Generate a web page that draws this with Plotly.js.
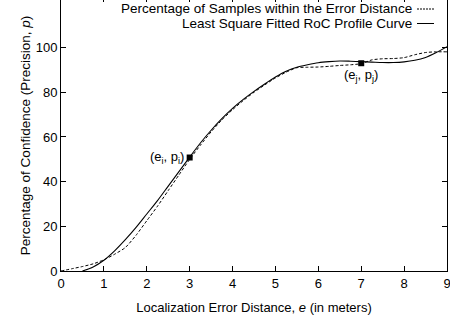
<!DOCTYPE html>
<html>
<head>
<meta charset="utf-8">
<script src="https://cdn.plot.ly/plotly-3.0.1.min.js"></script>
<style>html,body{margin:0;padding:0;background:#fff;}#chart{width:450px;height:320px;}</style>
</head>
<body>
<div id="chart"></div>
<script>
// Percentage of samples within the error distance (dashed)
const sampleE = [0,0.25,0.5,0.75,1,1.25,1.5,1.75,2,2.25,2.5,2.75,3,3.25,3.5,3.75,4,4.25,4.5,4.75,5,5.25,5.5,5.75,6,6.25,6.5,6.75,7,7.25,7.5,7.75,8,8.25,8.5,8.75,9];
const sampleP = [0,1,2,3.2,5,7.5,10.5,16,22.5,29,36,43,50,56.3,62.3,67.6,72.2,76.3,80,83.3,86.4,89,91,91.2,91.3,91.6,92,92.3,92.8,94.5,95,95.1,95.5,96.8,97.8,98.1,98.1];
// Least square fitted RoC profile curve (solid)
const fitE = [0.5,0.75,1,1.25,1.5,1.75,2,2.25,2.5,2.75,3,3.25,3.5,3.75,4,4.25,4.5,4.75,5,5.25,5.5,5.75,6,6.25,6.5,6.75,7,7.25,7.5,7.75,8,8.25,8.5,8.75,9];
const fitP = [0,1.8,4.8,9,14,19.5,25.5,31.5,38,44.5,51,57.3,63,68.2,72.8,76.8,80.4,83.7,86.8,89.4,91.2,92.3,93.2,93.7,94,93.9,93.7,93.5,93.3,93.3,93.6,94.3,95.6,97.8,100.4];
// Highlighted points
const markE = [3, 7];
const markP = [50.8, 93];
const markLabels = ['(e<sub>i</sub>, p<sub>i</sub>)', '(e<sub>j</sub>, p<sub>j</sub>)'];
const seriesNames = ['Percentage of Samples within the Error Distance', 'Least Square Fitted RoC Profile Curve'];
const xTicks = [0,1,2,3,4,5,6,7,8,9];
const yTicks = [0,20,40,60,80,100];

const FONT = 'Liberation Sans, Arial, Helvetica, sans-serif';

const traces = [
  {x: sampleE, y: sampleP, mode: 'lines', name: seriesNames[0], line: {color: '#000', width: 1, dash: '3px,2px', shape: 'spline', smoothing: 0.6}, hoverinfo: 'skip'},
  {x: fitE, y: fitP, mode: 'lines', name: seriesNames[1], line: {color: '#000', width: 1.1, shape: 'spline', smoothing: 0.8}, hoverinfo: 'skip'},
  {x: markE, y: markP, mode: 'markers', marker: {symbol: 'square', size: 6, color: '#000'}, hoverinfo: 'skip'},
  {x: xTicks, y: xTicks.map(() => null), xaxis: 'x2', yaxis: 'y', mode: 'lines', hoverinfo: 'skip'}
];

const plotW = 450 - 61 - 3, plotH = 320 - 0 - 49;
function px2paperX(px) { return (px - 61) / plotW; }
function px2paperY(py) { return 1 - py / plotH; }

const annotations = [
  {x: markE[0], y: markP[0], xref: 'x', yref: 'y', text: markLabels[0], showarrow: false, xanchor: 'right', yanchor: 'middle', xshift: -4, font: {family: FONT, size: 13, color: '#000'}},
  {x: markE[1], y: markP[1], xref: 'x', yref: 'y', text: markLabels[1], showarrow: false, xanchor: 'center', yanchor: 'top', yshift: -2, font: {family: FONT, size: 13, color: '#000'}},
  {x: px2paperX(413), y: px2paperY(9), xref: 'paper', yref: 'paper', text: seriesNames[0], showarrow: false, xanchor: 'right', yanchor: 'middle', borderpad: 0, font: {family: FONT, size: 13.5, color: '#000'}},
  {x: px2paperX(413), y: px2paperY(23.5), xref: 'paper', yref: 'paper', text: seriesNames[1], showarrow: false, xanchor: 'right', yanchor: 'middle', borderpad: 0, font: {family: FONT, size: 13.5, color: '#000'}}
];

const layout = {
  width: 450, height: 320,
  margin: {l: 61, r: 3, t: 0, b: 49},
  paper_bgcolor: '#fff', plot_bgcolor: '#fff',
  showlegend: false,
  font: {family: FONT, size: 13, color: '#000'},
  xaxis: {
    range: [0, 9], tickvals: xTicks, ticks: 'inside', ticklen: 5, tickcolor: '#000', tickwidth: 1,
    showline: true, linecolor: '#000', linewidth: 1, showgrid: false, zeroline: false, mirror: false,
    ticklabeloverflow: 'allow',
    tickfont: {family: FONT, size: 13, color: '#000'},
    title: {text: 'Localization Error Distance, <i>e</i> (in meters)', font: {family: FONT, size: 13, color: '#000'}, standoff: 13}
  },
  xaxis2: {
    range: [0, 9], overlaying: 'x', side: 'top', anchor: 'y', tickvals: xTicks, ticks: 'inside', ticklen: 2, tickcolor: '#000',
    showticklabels: false, showline: false, showgrid: false, zeroline: false
  },
  yaxis: {
    range: [0, 121.3], tickvals: yTicks, ticks: 'inside', ticklen: 5, tickcolor: '#000', tickwidth: 1,
    showline: true, linecolor: '#000', linewidth: 1, showgrid: false, zeroline: false, mirror: 'ticks',
    tickfont: {family: FONT, size: 13, color: '#000'},
    title: {text: 'Percentage of Confidence (Precision, <i>p</i>)', font: {family: FONT, size: 13.5, color: '#000'}, standoff: 1}
  },
  annotations: annotations,
  shapes: [
    {type: 'line', xref: 'paper', yref: 'paper', x0: px2paperX(417), x1: px2paperX(434), y0: px2paperY(9), y1: px2paperY(9), line: {color: '#000', width: 1, dash: '2px,1px'}},
    {type: 'line', xref: 'paper', yref: 'paper', x0: px2paperX(417), x1: px2paperX(434), y0: px2paperY(23.5), y1: px2paperY(23.5), line: {color: '#000', width: 1}}
  ]
};

Plotly.newPlot('chart', traces, layout, {staticPlot: true, displayModeBar: false});
</script>
</body>
</html>
